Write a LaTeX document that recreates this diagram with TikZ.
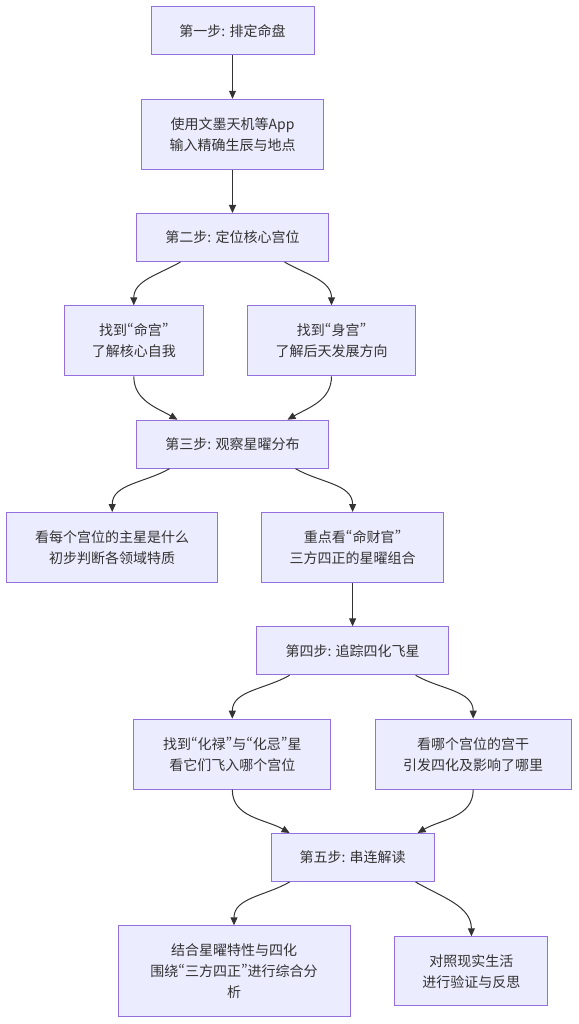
\documentclass[tikz,border=0pt]{standalone}
\usepackage{fontspec}
\setmainfont{Noto Sans CJK SC}
\newfontfamily\pquote[RawFeature=+pwid]{Noto Sans CJK SC}
\usepackage{xcolor}
\usetikzlibrary{arrows.meta}

\definecolor{boxfill}{HTML}{ECECFF}
\definecolor{boxline}{HTML}{9370DB}
\definecolor{inkgray}{HTML}{333333}

% narrow quotation marks
\newcommand{\cnquote}[1]{{\pquote “}#1{\pquote ”}}

\tikzset{
    stepbox/.style={draw=boxline,fill=boxfill,line width=1pt,text=inkgray,align=center,
        inner sep=0pt,minimum height=48pt,font=\fontsize{14}{21}\selectfont},
    link/.style={draw=inkgray,line width=1pt,-{Stealth[length=8pt,width=7pt,inset=0pt]}}
}

\begin{document}
\begin{tikzpicture}[x=1pt,y=1pt]
    \useasboundingbox (0,0) rectangle (578,-1024);

    % Step one
    \node[stepbox,minimum width=163pt] (s1) at (232.5,-31) {第一步: 排定命盘};
    \node[stepbox,minimum width=182pt,minimum height=70pt] (app) at (232.5,-134.3) {使用文墨天机等App\\输入精确生辰与地点};

    % Step two
    \node[stepbox,minimum width=192pt] (s2) at (232.5,-237.5) {第二步: 定位核心宫位};
    \node[stepbox,minimum width=139pt,minimum height=70pt] (ming) at (133.8,-340.8) {找到\cnquote{命宫}\\了解核心自我};
    \node[stepbox,minimum width=168pt,minimum height=70pt] (shen) at (331.5,-340.8) {找到\cnquote{身宫}\\了解后天发展方向};

    % Step three
    \node[stepbox,minimum width=192pt] (s3) at (232.5,-444.2) {第三步: 观察星曜分布};
    \node[stepbox,minimum width=211pt,minimum height=70pt] (zhu) at (112.2,-547.5) {看每个宫位的主星是什么\\初步判断各领域特质};
    \node[stepbox,minimum width=182pt,minimum height=70pt] (cai) at (352.6,-547.5) {重点看\cnquote{命财官}\\三方四正的星曜组合};

    % Step four
    \node[stepbox,minimum width=192pt] (s4) at (352.6,-650.8) {第四步: 追踪四化飞星};
    \node[stepbox,minimum width=197pt,minimum height=70pt] (lu) at (232.3,-754.2) {找到\cnquote{化禄}与\cnquote{化忌}星\\看它们飞入哪个宫位};
    \node[stepbox,minimum width=196pt,minimum height=70pt] (gan) at (473.2,-754.2) {看哪个宫位的宫干\\引发四化及影响了哪里};

    % Step five
    \node[stepbox,minimum width=163pt] (s5) at (352.6,-857.5) {第五步: 串连解读};
    \node[stepbox,minimum width=232pt,minimum height=91pt] (zong) at (234,-971.3) {结合星曜特性与四化\\围绕\cnquote{三方四正}进行综合分\\析};
    \node[stepbox,minimum width=153pt,minimum height=69pt] (yan) at (471.4,-971.3) {对照现实生活\\进行验证与反思};

    % Draw connectors
    \draw[link] (s1) -- (app);
    \draw[link] (app) -- (s2);
    \draw[link] ([xshift=-52pt]s2.south) to[out=-150,in=90] (ming.north);
    \draw[link] ([xshift=52pt]s2.south) to[out=-30,in=90] (shen.north);
    \draw[link] (ming.south) to[out=-90,in=150] ([xshift=-55pt]s3.north);
    \draw[link] (shen.south) to[out=-90,in=30] ([xshift=55pt]s3.north);
    \draw[link] ([xshift=-63pt]s3.south) to[out=-150,in=90] (zhu.north);
    \draw[link] ([xshift=63pt]s3.south) to[out=-30,in=90] (cai.north);
    \draw[link] (cai) -- (s4);
    \draw[link] ([xshift=-63pt]s4.south) to[out=-150,in=90] (lu.north);
    \draw[link] ([xshift=63pt]s4.south) to[out=-30,in=90] (gan.north);
    \draw[link] (lu.south) to[out=-90,in=150] ([xshift=-63pt]s5.north);
    \draw[link] (gan.south) to[out=-90,in=30] ([xshift=65pt]s5.north);
    \draw[link] ([xshift=-63pt]s5.south) to[out=-150,in=90] (zong.north);
    \draw[link] ([xshift=63pt]s5.south) to[out=-30,in=90] (yan.north);
\end{tikzpicture}
\end{document}
